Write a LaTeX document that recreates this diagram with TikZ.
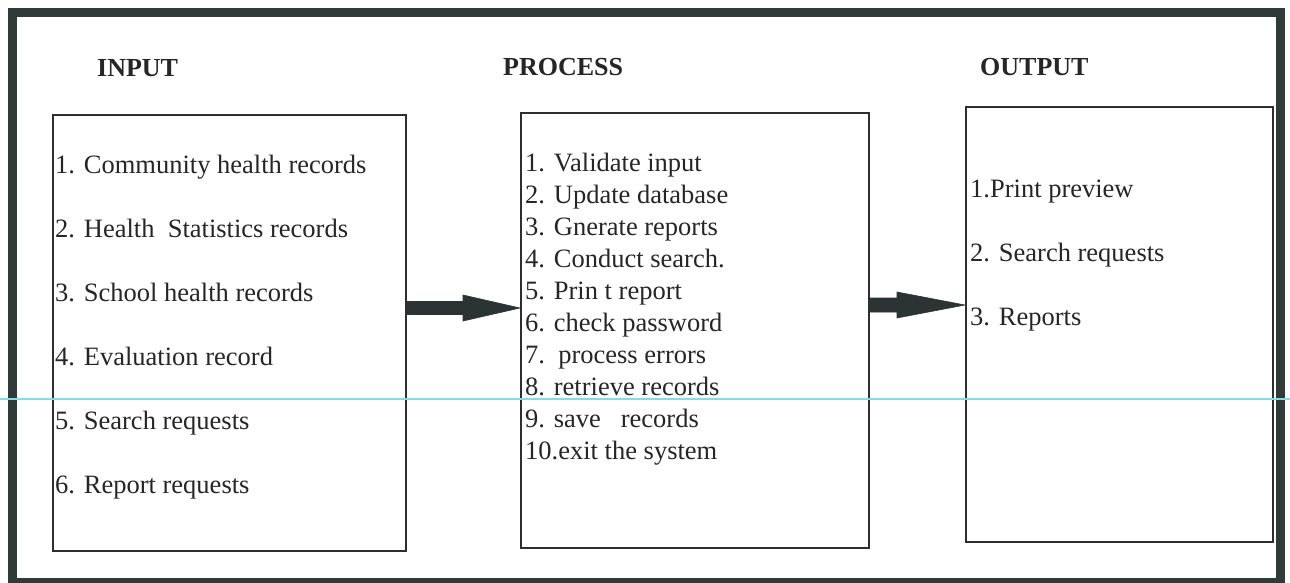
\documentclass[tikz,border=0pt]{standalone}
\usepackage{fontspec}
\setmainfont{Liberation Serif}
\usetikzlibrary{calc}
\definecolor{framec}{HTML}{2F3B38}
\definecolor{arrc}{HTML}{2B3432}
\definecolor{boxc}{HTML}{2E2E2E}
\definecolor{scanc}{HTML}{86DCE4}
\begin{document}
\begin{tikzpicture}[x=1pt,y=-1pt,
  box/.style={draw=boxc,line width=1.6pt,anchor=north west,inner sep=0pt},
  head/.style={anchor=base west,inner sep=0pt,font=\fontsize{26}{30}\selectfont\bfseries,text=black!85},
  item/.style={anchor=base west,inner sep=0pt,font=\fontsize{26.5}{32}\selectfont,text=black!85},
  arr/.style={fill=arrc,draw=arrc,line width=0.6pt,line join=miter}]
\useasboundingbox (0,0) rectangle (1290,582);
\fill[white] (0,0) rectangle (1290,582);
% frame
\draw[framec,line width=9pt] (12,12.5) rectangle (1280.5,582);
% headings
\node[head] (hin) at (97,76) {INPUT};
\node[head] (hproc) at (503,75) {PROCESS};
\node[head] (hout) at (980,75) {OUTPUT};
% boxes
\node[box,minimum width=353pt,minimum height=436pt] (in) at (52,114) {};
\node[box,minimum width=348pt,minimum height=435pt] (proc) at (520,112) {};
\node[box,minimum width=307pt,minimum height=435pt] (out) at (965,106) {};
% input items
\foreach \t [count=\i] in {1. Community health records,
  2. Health\ \ Statistics records,
  3. School health records,
  4. Evaluation record,
  5. Search requests,
  6. Report requests}
  \node[item] (in\i) at (55,{173+64*(\i-1)}) {\t};
% process items
\foreach \t [count=\i] in {1. Validate input,
  2. Update database,
  3. Gnerate reports,
  4. Conduct search.,
  5. Prin t report,
  6. check password,
  7.\ \ process errors,
  8. retrieve records,
  9. save\ \ \ records,
  10.exit the system}
  \node[item] (p\i) at (525,{171+32.1*(\i-1)}) {\t};
% output items
\foreach \t [count=\i] in {1.Print preview,
  2. Search requests,
  3. Reports}
  \node[item] (o\i) at (970,{197+64*(\i-1)}) {\t};
% arrows
\path (in.north east) ++(0,194) coordinate (a1s);
\coordinate (a1t) at (proc.west |- a1s);
\fill[arr] ($(a1s)+(0,-6.5)$) -- ($(a1t)+(-57,-6.5)$) -- ($(a1t)+(-57,-13)$) -- (a1t)
  -- ($(a1t)+(-57,13)$) -- ($(a1t)+(-57,6.5)$) -- ($(a1s)+(0,6.5)$) -- cycle;
\path (proc.north east) ++(0,193) coordinate (a2s);
\coordinate (a2t) at (out.west |- a2s);
\fill[arr] ($(a2s)+(0,-7)$) -- ($(a2t)+(-68,-7)$) -- ($(a2t)+(-68,-13)$) -- (a2t)
  -- ($(a2t)+(-68,13)$) -- ($(a2t)+(-68,7)$) -- ($(a2s)+(0,7)$) -- cycle;
% scan line
\draw[scanc,line width=1.5pt] (0,399) -- (1290,399);
\end{tikzpicture}
\end{document}
